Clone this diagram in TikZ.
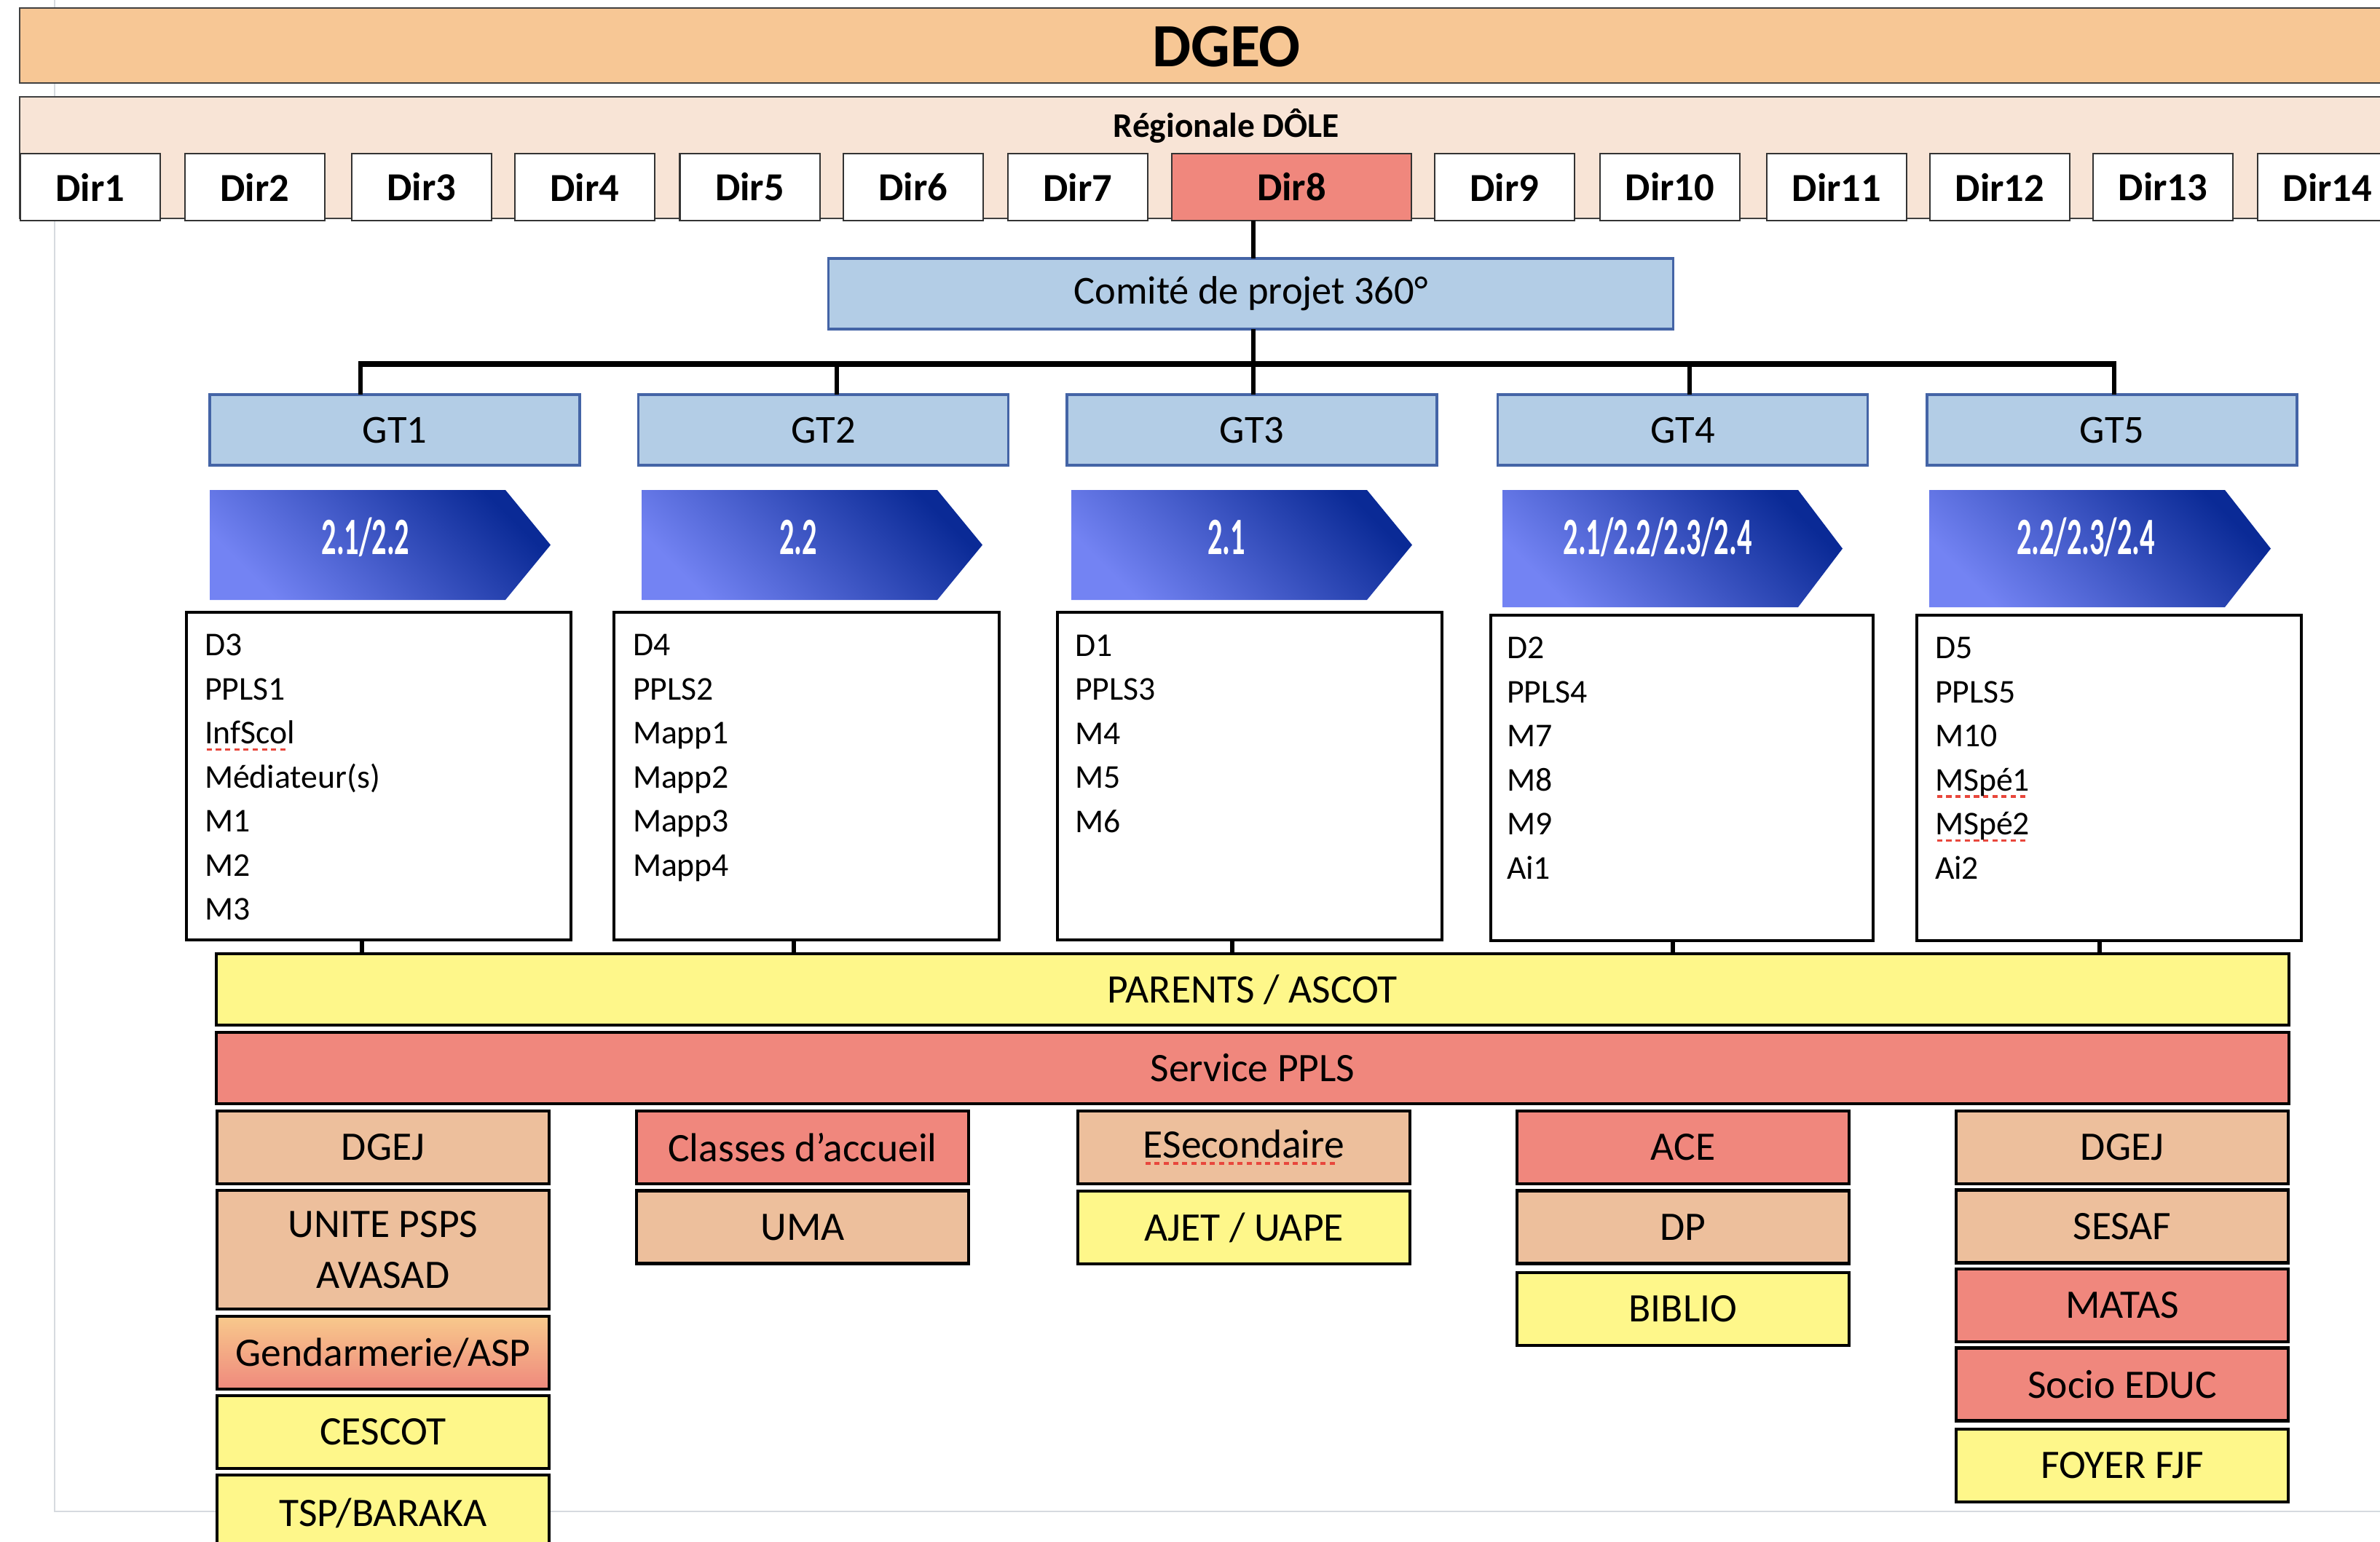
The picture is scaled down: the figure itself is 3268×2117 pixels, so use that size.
\documentclass[tikz,border=0pt]{standalone}
\usepackage{fontspec}
\usepackage{graphicx}
\setmainfont{Carlito}
\usetikzlibrary{calc}
\definecolor{dgeo}{HTML}{F7C795}
\definecolor{regio}{HTML}{F8E4D6}
\definecolor{salmon}{HTML}{F0877D}
\definecolor{peach}{HTML}{EDBF9C}
\definecolor{yel}{HTML}{FEF78A}
\definecolor{gtfill}{HTML}{B3CDE6}
\definecolor{gtdraw}{HTML}{4464A6}
\definecolor{arlight}{HTML}{7383F3}
\definecolor{ardark}{HTML}{0A2A96}
\definecolor{framegray}{HTML}{D6DADF}
\definecolor{spellred}{HTML}{E8473C}
\definecolor{gendtop}{HTML}{F8C98C}
\definecolor{gendbot}{HTML}{EF897D}
\newsavebox\spellbox
\newcommand{\spellmark}[1]{\sbox\spellbox{#1}\rlap{\raisebox{-2.8pt}{\textcolor{spellred}{\leaders\hbox to 3.6pt{\hss\rule{2pt}{1.1pt}\hss}\hskip\wd\spellbox}}}#1}
\newcommand{\chevlabel}[1]{\scalebox{0.56}[1]{#1}}
\begin{document}
\begin{tikzpicture}[x=0.01cm,y=-0.01cm,
  every node/.style={inner sep=0pt, outer sep=0pt},
  topbar/.style={draw=black!75, line width=0.6pt},
  dirbox/.style={draw=black!80, line width=0.6pt, fill=white, minimum width=1.92cm, minimum height=0.92cm, font=\fontsize{15.5}{18}\selectfont\bfseries},
  gtbox/.style={draw=gtdraw, line width=1pt, fill=gtfill, minimum height=0.97cm, minimum width=5.08cm, font=\fontsize{15.5}{18}\selectfont},
  listbox/.style={draw=black, line width=1.2pt, fill=white, minimum width=5.28cm, minimum height=4.5cm},
  listtxt/.style={anchor=base west, align=left, font=\fontsize{13}{17.2}\selectfont},
  svc/.style={draw=black, line width=1.3pt, minimum width=4.56cm, minimum height=1.0cm, font=\fontsize{15.8}{19.7}\selectfont, align=center},
  widebar/.style={draw=black, line width=1.3pt, minimum width=28.44cm, minimum height=0.98cm, font=\fontsize{15.8}{18}\selectfont},
  chev/.style={left color=arlight, right color=ardark, shading angle=135},
  chevtxt/.style={text=white, font=\fontsize{20.5}{22}\selectfont\bfseries},
  link/.style={line width=1.7pt},
  bus/.style={line width=2.3pt},
]
\useasboundingbox (0,0) rectangle (3268,2117);
\clip (0,0) rectangle (3268,2117);

% light page frame
\draw[framegray, line width=0.8pt] (75,-10) -- (75,2076) -- (3300,2076);

% top bars
\node[topbar, fill=dgeo, minimum width=33.12cm, minimum height=1.03cm] (dgeobar) at (1684,62.5) {};
\node[font=\fontsize{24}{28}\selectfont\bfseries] (dgeotxt) at (1684,64) {DGEO};
\node[topbar, fill=regio, minimum width=33.12cm, minimum height=1.67cm] (regbar) at (1684,216.5) {};
\node[font=\fontsize{13.5}{16}\selectfont\bfseries] (regtxt) at (1684,173) {Régionale DÔLE};

% directions
\foreach \i/\x in {1/124,2/350,3/579,4/803,5/1029.5,6/1254,7/1480,9/2066,10/2293,11/2522,12/2746,13/2970,14/3196}
  \node[dirbox] (dir\i) at (\x,257) {Dir\i};
\node[dirbox, fill=salmon, minimum width=3.29cm] (dir8) at (1773.5,257) {Dir8};

% comite
\node[gtbox, minimum width=11.59cm] (comite) at (1717.5,403.5) {Comité de projet 360°};

% GT boxes
\node[gtbox] (gt1) at (542,590.5) {GT1};
\node[gtbox] (gt2) at (1130.5,590.5) {GT2};
\node[gtbox] (gt3) at (1719,590.5) {GT3};
\node[gtbox] (gt4) at (2310.5,590.5) {GT4};
\node[gtbox] (gt5) at (2900,590.5) {GT5};

% connectors top
\coordinate (c8) at (dir8.south -| 1721,0);
\draw[link] (c8) -- (c8 |- comite.north);
\coordinate (t1) at (495,500);
\coordinate (t2) at (1149,500);
\coordinate (t3) at (1721,500);
\coordinate (t4) at (2320,500);
\coordinate (t5) at (2903,500);
\draw[link] (t3 |- comite.south) -- (t3);
\draw[bus] ([xshift=-0.8pt]t1) -- ([xshift=0.8pt]t5);
\foreach \k in {1,...,5} \draw[link] (t\k) -- (t\k |- gt\k.north);

% chevrons
\shade[chev] (288,673) -- (694,673) -- (756,748.5) -- (694,824) -- (288,824) -- cycle;
\shade[chev] (881,673) -- (1287,673) -- (1349,748.5) -- (1287,824) -- (881,824) -- cycle;
\shade[chev] (1471,673) -- (1877,673) -- (1939,748.5) -- (1877,824) -- (1471,824) -- cycle;
\shade[chev] (2063,673) -- (2469,673) -- (2530,753.5) -- (2469,834) -- (2063,834) -- cycle;
\shade[chev] (2649,673) -- (3055,673) -- (3118,753.5) -- (3055,834) -- (2649,834) -- cycle;
\node[chevtxt] (ch1) at (502,738) {\chevlabel{2.1/2.2}};
\node[chevtxt] (ch2) at (1096,738) {\chevlabel{2.2}};
\node[chevtxt] (ch3) at (1684,738) {\chevlabel{2.1}};
\node[chevtxt] (ch4) at (2276,738) {\chevlabel{2.1/2.2/2.3/2.4}};
\node[chevtxt] (ch5) at (2864,738) {\chevlabel{2.2/2.3/2.4}};

% member lists (anchor = baseline of the last line)
\node[listbox] (b1) at (520,1066) {};
\node[listbox] (b2) at (1107.5,1066) {};
\node[listbox] (b3) at (1716,1066) {};
\node[listbox, minimum width=5.25cm, minimum height=4.47cm] (b4) at (2309.5,1068.5) {};
\node[listbox, minimum height=4.47cm] (b5) at (2896,1068.5) {};
\node[listtxt] (l1) at (281,1263.5) {D3\\PPLS1\\\spellmark{InfScol}\\Médiateur(s)\\M1\\M2\\M3};
\node[listtxt] (l2) at (869,1203) {D4\\PPLS2\\Mapp1\\Mapp2\\Mapp3\\Mapp4};
\node[listtxt] (l3) at (1476,1143) {D1\\PPLS3\\M4\\M5\\M6};
\node[listtxt] (l4) at (2069,1207) {D2\\PPLS4\\M7\\M8\\M9\\Ai1};
\node[listtxt] (l5) at (2657,1207) {D5\\PPLS5\\M10\\\spellmark{MSpé1}\\\spellmark{MSpé2}\\Ai2};

% wide bars
\node[widebar, fill=yel] (parents) at (1720,1359) {PARENTS / ASCOT};
\node[widebar, fill=salmon] (pplsbar) at (1720,1467) {Service PPLS};

% ticks list -> parents
\coordinate (k1) at ([xshift=-0.23cm]b1.south);
\coordinate (k2) at ([xshift=-0.175cm]b2.south);
\coordinate (k3) at ([xshift=-0.24cm]b3.south);
\coordinate (k4) at ([xshift=-0.125cm]b4.south);
\coordinate (k5) at ([xshift=-0.13cm]b5.south);
\foreach \k in {1,...,5} \draw[link] (k\k) -- (k\k |- parents.north);

% services column 1
\node[svc, fill=peach] (s11) at (526,1576) {DGEJ};
\node[svc, fill=peach, minimum height=1.63cm] (s12) at (526,1716.5) {UNITE PSPS\\AVASAD};
\node[svc, top color=gendtop, bottom color=gendbot] (s13) at (526,1858) {Gendarmerie/ASP};
\node[svc, fill=yel] (s14) at (526,1967) {CESCOT};
\node[svc, fill=yel, minimum height=1.04cm] (s15) at (526,2078) {TSP/BARAKA};
% column 2
\node[svc, fill=salmon] (s21) at (1102,1576) {Classes d’accueil};
\node[svc, fill=peach] (s22) at (1102,1685.5) {UMA};
% column 3
\node[svc, fill=peach] (s31) at (1708,1576) {\spellmark{ESecondaire}};
\node[svc, fill=yel] (s32) at (1708,1686) {AJET / UAPE};
% column 4
\node[svc, fill=salmon] (s41) at (2311,1576) {ACE};
\node[svc, fill=peach] (s42) at (2311,1685.5) {DP};
\node[svc, fill=yel] (s43) at (2311,1798) {BIBLIO};
% column 5
\node[svc, fill=peach] (s51) at (2914,1576) {DGEJ};
\node[svc, fill=peach] (s52) at (2914,1684.5) {SESAF};
\node[svc, fill=salmon] (s53) at (2914,1793) {MATAS};
\node[svc, fill=salmon] (s54) at (2914,1901.5) {Socio EDUC};
\node[svc, fill=yel] (s55) at (2914,2013) {FOYER FJF};
\end{tikzpicture}
\end{document}
